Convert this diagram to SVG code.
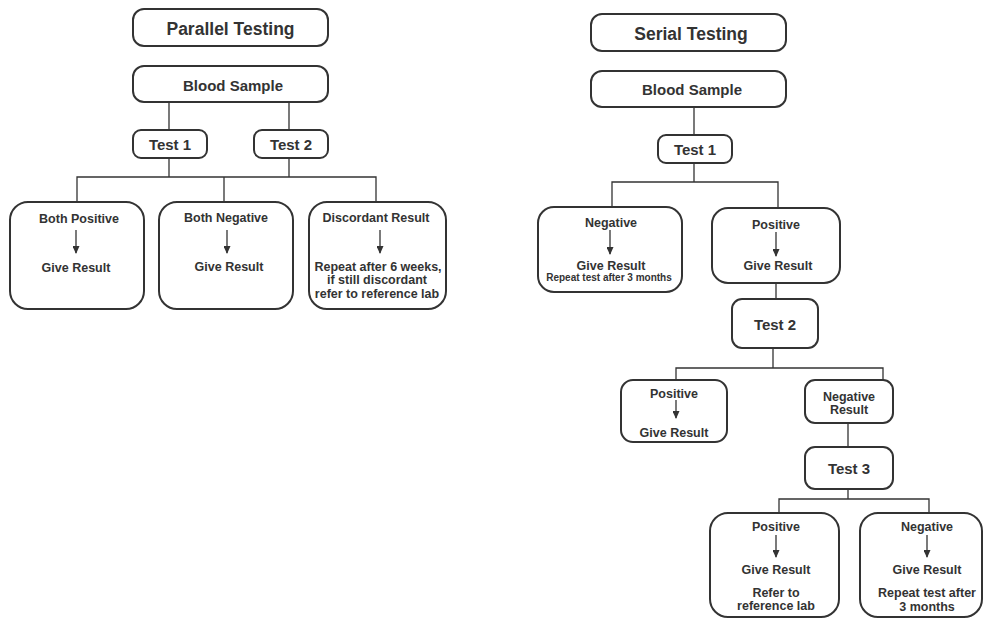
<svg xmlns="http://www.w3.org/2000/svg" width="984" height="621" viewBox="0 0 984 621">
<defs>
<marker id="ah" markerWidth="8" markerHeight="7" refX="7" refY="3.5" orient="auto" markerUnits="userSpaceOnUse">
<path d="M0,0 L8,3.5 L0,7 Z" fill="#333"/>
</marker>
<style>
.box{fill:#fff;stroke:#333;stroke-width:2}
.con{fill:none;stroke:#333;stroke-width:1.3}
.arr{fill:none;stroke:#333;stroke-width:1.3;marker-end:url(#ah)}
text{font-family:"Liberation Sans",Arial,sans-serif;font-weight:bold;fill:#333;text-anchor:middle}
.t1{font-size:17.5px}
.t2{font-size:15px}
.t3{font-size:12.5px}
.t4{font-size:10px}
</style>
</defs>
<rect width="984" height="621" fill="#fff"/>

<g id="connectors">
<!-- parallel -->
<path class="con" d="M169,102 V130 M289,102 V130"/>
<path class="con" d="M169,158 V177 M289,158 V177 M77,202 V177 H376 V202 M224,177 V202"/>
<!-- serial -->
<path class="con" d="M694,107 V135 M694,163 V182 M612,207 V182 H778 V208"/>
<path class="con" d="M776,283 V299 M773,348 V368 M676,380 V368 H883 V380"/>
<path class="con" d="M848,423 V447 M848,489 V499 M779,513 V499 H929 V513"/>
</g>

<g id="p-title"><rect class="box" x="133" y="9" width="195" height="37" rx="11"/><text class="t1" x="230.5" y="35">Parallel Testing</text></g>
<g id="p-blood"><rect class="box" x="133" y="66" width="195" height="36" rx="11"/><text class="t2" x="233" y="90.5">Blood Sample</text></g>
<g id="p-test1"><rect class="box" x="133" y="130" width="74" height="28" rx="8"/><text class="t2" x="170" y="149.5">Test 1</text></g>
<g id="p-test2"><rect class="box" x="254" y="130" width="74" height="28" rx="8"/><text class="t2" x="291" y="149.5">Test 2</text></g>
<g id="p-bothpos"><rect class="box" x="10" y="202" width="134" height="107" rx="18"/>
<text class="t3" x="79" y="222.5">Both Positive</text>
<path class="arr" d="M76,230 V253"/>
<text class="t3" x="76" y="271.5">Give Result</text></g>
<g id="p-bothneg"><rect class="box" x="159" y="202" width="134" height="107" rx="18"/>
<text class="t3" x="226" y="221.5">Both Negative</text>
<path class="arr" d="M227,230 V253"/>
<text class="t3" x="229" y="270.5">Give Result</text></g>
<g id="p-disc"><rect class="box" x="309" y="202" width="137" height="107" rx="18"/>
<text class="t3" x="376" y="221.5">Discordant Result</text>
<path class="arr" d="M380,230 V253"/>
<text class="t3" x="378" y="270.5">Repeat after 6 weeks,</text>
<text class="t3" x="377" y="283.5">if still discordant</text>
<text class="t3" x="377" y="297.5">refer to reference lab</text></g>

<g id="s-title"><rect class="box" x="591" y="14" width="195" height="37" rx="11"/><text class="t1" x="691" y="39.5">Serial Testing</text></g>
<g id="s-blood"><rect class="box" x="591" y="71" width="195" height="36" rx="11"/><text class="t2" x="692" y="94.5">Blood Sample</text></g>
<g id="s-test1"><rect class="box" x="658" y="135" width="74" height="28" rx="8"/><text class="t2" x="695" y="154.5">Test 1</text></g>
<g id="s-neg1"><rect class="box" x="538" y="207" width="144" height="85" rx="16"/>
<text class="t3" x="611" y="226.5">Negative</text>
<path class="arr" d="M610,230 V254"/>
<text class="t3" x="611" y="269.5">Give Result</text>
<text class="t4" x="609" y="280.5">Repeat test after 3 months</text></g>
<g id="s-pos1"><rect class="box" x="712" y="208" width="128" height="75" rx="16"/>
<text class="t3" x="776" y="228.5">Positive</text>
<path class="arr" d="M776,232 V256"/>
<text class="t3" x="778" y="269.5">Give Result</text></g>
<g id="s-test2"><rect class="box" x="732" y="299" width="86" height="49" rx="10"/><text class="t2" x="775" y="329.5">Test 2</text></g>
<g id="s-pos2"><rect class="box" x="621" y="380" width="106" height="62" rx="12"/>
<text class="t3" x="674" y="397.5">Positive</text>
<path class="arr" d="M676,400 V418"/>
<text class="t3" x="674" y="436.5">Give Result</text></g>
<g id="s-neg2"><rect class="box" x="805" y="380" width="88" height="43" rx="10"/>
<text class="t3" x="849" y="400.5">Negative</text>
<text class="t3" x="849" y="413.5">Result</text></g>
<g id="s-test3"><rect class="box" x="805" y="447" width="88" height="42" rx="10"/><text class="t2" x="849" y="473.5">Test 3</text></g>
<g id="s-pos3"><rect class="box" x="710" y="513" width="129" height="104" rx="18"/>
<text class="t3" x="776" y="530.5">Positive</text>
<path class="arr" d="M776,535 V557"/>
<text class="t3" x="776" y="573.5">Give Result</text>
<text class="t3" x="776" y="596.5">Refer to</text>
<text class="t3" x="776" y="609.5">reference lab</text></g>
<g id="s-neg3"><rect class="box" x="860" y="513" width="122" height="104" rx="18"/>
<text class="t3" x="927" y="530.5">Negative</text>
<path class="arr" d="M927,535 V557"/>
<text class="t3" x="927" y="573.5">Give Result</text>
<text class="t3" x="927" y="596.5">Repeat test after</text>
<text class="t3" x="927" y="610.5">3 months</text></g>
</svg>
